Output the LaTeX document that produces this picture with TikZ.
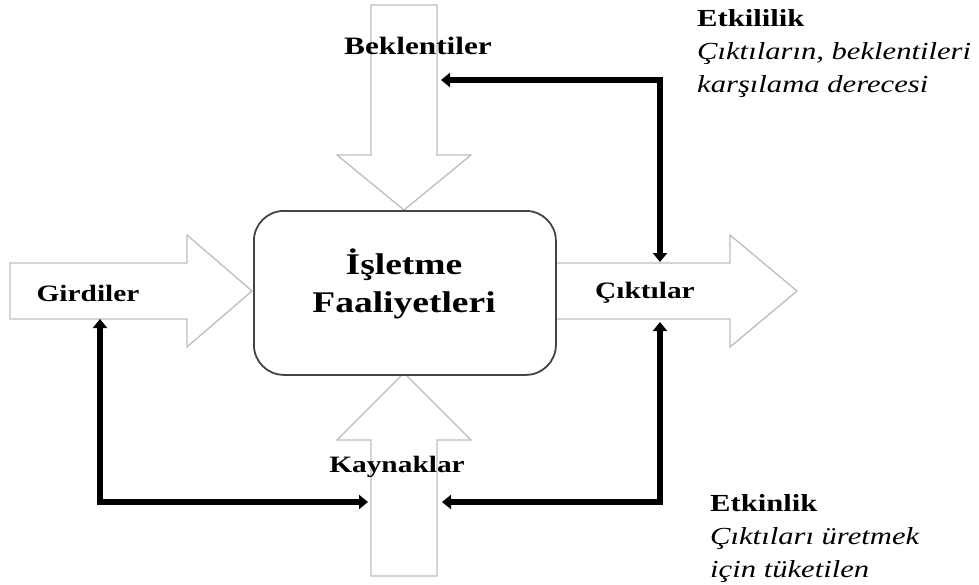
\documentclass[tikz,border=0pt]{standalone}
\usepackage{fontspec}
\setmainfont{Liberation Serif}[FakeStretch=1.25]
\usetikzlibrary{arrows.meta}
\definecolor{blockgray}{HTML}{BDBDBD}
\definecolor{boxedge}{HTML}{444444}
\tikzset{
  block/.style={draw=blockgray, line width=1.3pt, fill=white, line join=miter},
  core/.style={draw=boxedge, line width=1.8pt, fill=white, rounded corners=30pt},
  fb/.style={line width=5.5pt, line join=miter, line cap=butt,
             arrows={Triangle[length=9pt,width=14pt]-Triangle[length=9pt,width=14pt]}},
  fbone/.style={line width=5.5pt, line join=miter, line cap=butt,
             -{Triangle[length=9pt,width=14pt]}},
  lbl/.style={font=\fontsize{23.5}{26}\selectfont\bfseries, inner sep=0pt},
  title/.style={font=\fontsize{30}{38}\selectfont\bfseries, align=center, inner sep=0pt},
  note/.style={anchor=north west, align=left, inner sep=0pt,
               font=\fontsize{24.5}{33}\selectfont}
}
\begin{document}
\begin{tikzpicture}[x=1pt,y=-1pt]
\useasboundingbox (0,0) rectangle (979,584);

% block arrows feeding the central process
\draw[block] (371,5) -- (437,5) -- (437,155) -- (471,155) -- (404,210)
  -- (337,155) -- (371,155) -- cycle;
\draw[block] (371,576) -- (437,576) -- (437,440) -- (471,440) -- (404,373)
  -- (337,440) -- (371,440) -- cycle;
\draw[block] (10,263) -- (187,263) -- (187,235) -- (252,291) -- (187,347)
  -- (187,319) -- (10,319) -- cycle;
\draw[block] (540,263) -- (730,263) -- (730,235) -- (797,291) -- (730,347)
  -- (730,319) -- (540,319) -- cycle;

% central process box
\node[core, minimum width=302pt, minimum height=164pt, anchor=north west]
  (proc) at (253,210) {};
\node[title] (ptitle) at (404,284) {İşletme\\Faaliyetleri};

% labels on the block arrows
\node[lbl, font=\fontsize{25}{28}\selectfont\bfseries] (bek) at (418,46) {Beklentiler};
\node[lbl] (gir) at (88,293) {Girdiler};
\node[lbl] (cik) at (645,293) {Çıktılar};
\node[lbl] (kay) at (397,467) {Kaynaklar};

% feedback connector end points
\coordinate (fbTopL) at (441,80);
\coordinate (fbTopC) at (660,80);
\coordinate (fbOutT) at (660,262);
\coordinate (fbOutB) at (660,322);
\coordinate (fbBotR) at (660,502);
\coordinate (resR) at (442,502);
\coordinate (resL) at (368,502);
\coordinate (fbBotL) at (100,502);
\coordinate (inB) at (100,319);

\draw[fb] (fbTopL) -- (fbTopC) -- (fbOutT);
\draw[fb] (fbOutB) -- (fbBotR) -- (resR);
\draw[fbone] (fbBotL) -- (inB);
\draw[fbone] (fbBotL) -- (resL);
\fill (97.25,499.25) rectangle (102.75,504.75);

% explanatory notes
\node[note] (etkililik) at (697,9) {\textbf{Etkililik}\\
  \textit{Çıktıların, beklentileri}\\ \textit{karşılama derecesi}};
\node[note] (etkinlik) at (710,494) {\textbf{Etkinlik}\\
  \textit{Çıktıları üretmek}\\ \textit{için tüketilen}};
\end{tikzpicture}
\end{document}
